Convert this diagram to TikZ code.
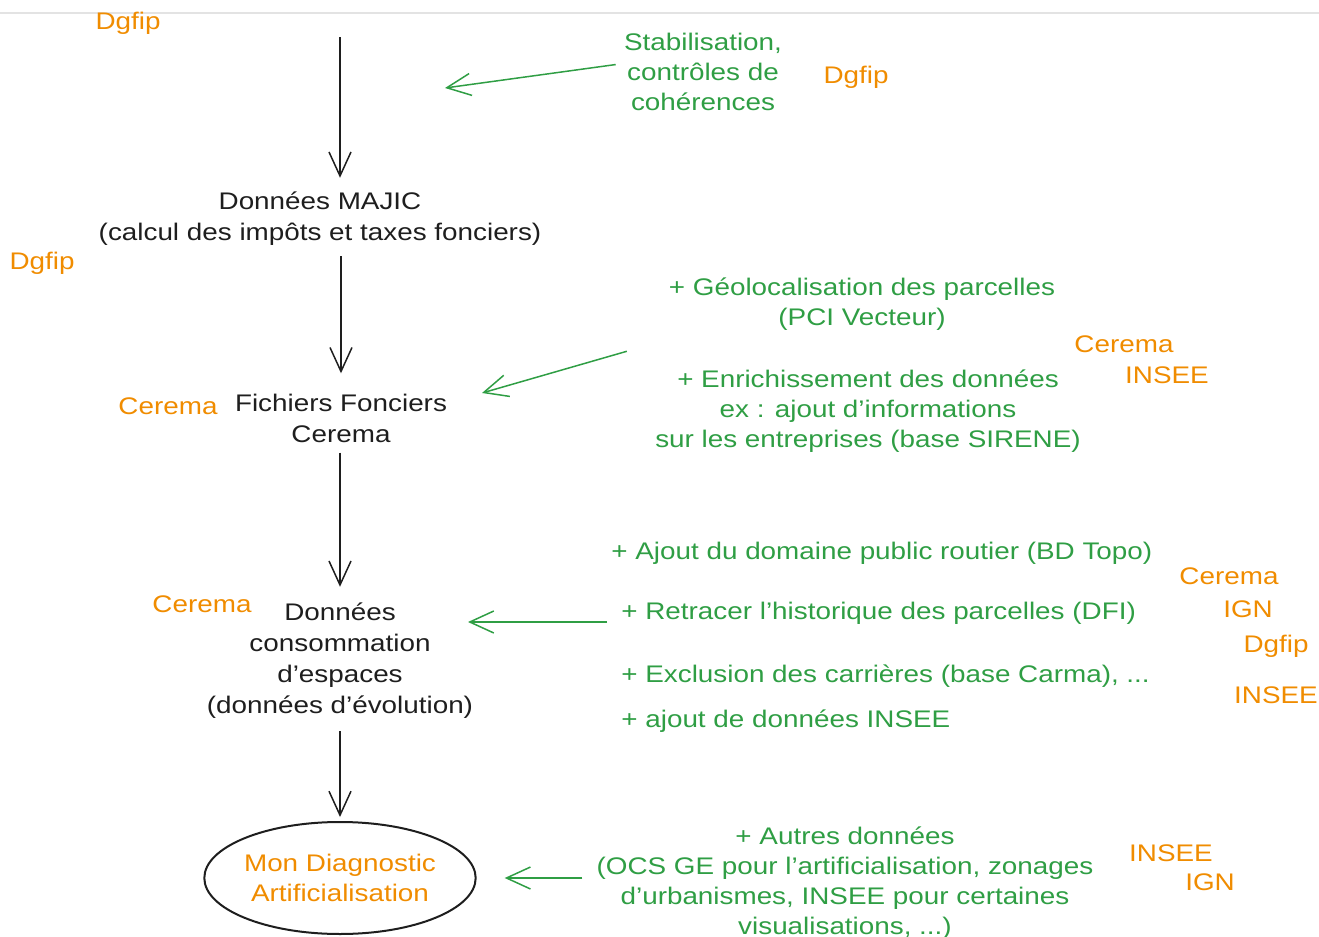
\documentclass[tikz,border=0pt]{standalone}
\usepackage{fontspec}
\setmainfont{Liberation Sans}[FakeStretch=1.16]
\usetikzlibrary{
    arrows.meta,
    shapes.geometric,
    positioning,
    calc
}
\definecolor{noir}{HTML}{1E1E1E}
\definecolor{vert}{HTML}{2F9E44}
\definecolor{acteur}{HTML}{F08C00}
\definecolor{filet}{HTML}{E3E3E3}
\tikzset{
    etape/.style={align=center, text=noir, inner sep=2pt, font=\fontsize{12}{15.5}\selectfont},
    ajout/.style={align=center, text=vert, inner sep=2pt, font=\fontsize{12}{15}\selectfont},
    acteur/.style={text=acteur, inner sep=1pt, font=\fontsize{12}{15}\selectfont},
    flow/.style={draw=noir, line width=0.75pt, -{Straight Barb[length=12pt, width=11pt]}},
    apport/.style={draw=vert, line width=0.75pt, -{Straight Barb[length=12pt, width=11pt]}}
}

\begin{document}
\begin{tikzpicture}[x=0.5pt, y=-0.5pt]
    \useasboundingbox (0, 0) rectangle (1319, 937);
    \draw[filet, line width=1pt] (0, 13) -- (1319, 13);

    % chaine principale
    \coordinate (debut) at (340, 37);
    \node[etape] (majic) at (320, 219) {Données MAJIC\\(calcul des impôts et taxes fonciers)};
    \node[etape] (ff) at (341, 418) {Fichiers Fonciers\\Cerema};
    \node[etape] (conso) at (340, 661) {Données\\consommation\\d'espaces\\(données d'évolution)};
    \node[ellipse, draw=noir, line width=1pt, inner sep=0pt, minimum width=127pt, minimum height=56pt,
          text=acteur, align=center, font=\fontsize{12}{15}\selectfont] (diag) at (340, 878)
          {Mon Diagnostic\\Artificialisation};

    \draw[flow, shorten >=5pt] (debut) -- (debut |- majic.north);
    \draw[flow, shorten <=3pt, shorten >=8pt] (majic.south -| ff.north) -- (ff.north);
    \draw[flow, shorten <=3pt, shorten >=6pt] (ff.south -| conso.north) -- (conso.north);
    \draw[flow, shorten <=4pt, shorten >=2pt] (conso.south -| diag.north) -- (diag.north);

    % apports
    \node[ajout] (stab) at (703, 72) {Stabilisation,\\contrôles de\\cohérences};
    \coordinate (c1) at (445, 88);
    \draw[apport, shorten <=2pt] ([yshift=4pt]stab.west) -- (c1);

    \node[ajout] (geo) at (862, 304) {+ Géolocalisation des parcelles\\(PCI Vecteur)};
    \node[ajout] (enrich) at (868, 411) {+ Enrichissement des données\\ex : ajout d'informations\\sur les entreprises (base SIRENE)};
    \coordinate (c2) at (482, 393);
    \draw[apport] ([shift={(-24, -14)}]enrich.north west) -- (c2);

    \node[ajout, anchor=west] (routier) at (607, 553) {+ Ajout du domaine public routier (BD Topo)};
    \node[ajout, anchor=west] (retracer) at (617, 613) {+ Retracer l'historique des parcelles (DFI)};
    \node[ajout, anchor=west] (carrieres) at (617, 676) {+ Exclusion des carrières (base Carma), ...};
    \node[ajout, anchor=west] (insee) at (617, 721) {+ ajout de données INSEE};
    \coordinate (c3) at (468, 622);
    \draw[apport, shorten <=5pt] ([yshift=-4.5pt]retracer.west) -- (c3);

    \node[ajout] (autres) at (845, 883) {+ Autres données\\(OCS GE pour l'artificialisation, zonages\\d'urbanismes, INSEE pour certaines\\visualisations, ...)};
    \draw[apport, shorten <=5pt, shorten >=14pt] (autres.west |- diag.east) -- (diag.east);

    % acteurs
    \node[acteur] (dg1) at (128, 23) {Dgfip};
    \node[acteur] (dg2) at (856, 77) {Dgfip};
    \node[acteur] (dg3) at (42, 263) {Dgfip};
    \node[acteur] (ce1) at (168, 406) {Cerema};
    \node[acteur] (ce2) at (1124, 344) {Cerema};
    \node[acteur] (in1) at (1167, 375) {INSEE};
    \node[acteur] (ce3) at (202, 604) {Cerema};
    \node[acteur] (ce4) at (1229, 576) {Cerema};
    \node[acteur] (ign1) at (1248, 609) {IGN};
    \node[acteur] (dg4) at (1276, 646) {Dgfip};
    \node[acteur] (in2) at (1276, 695) {INSEE};
    \node[acteur] (in3) at (1171, 853) {INSEE};
    \node[acteur] (ign2) at (1210, 882) {IGN};
\end{tikzpicture}
\end{document}
